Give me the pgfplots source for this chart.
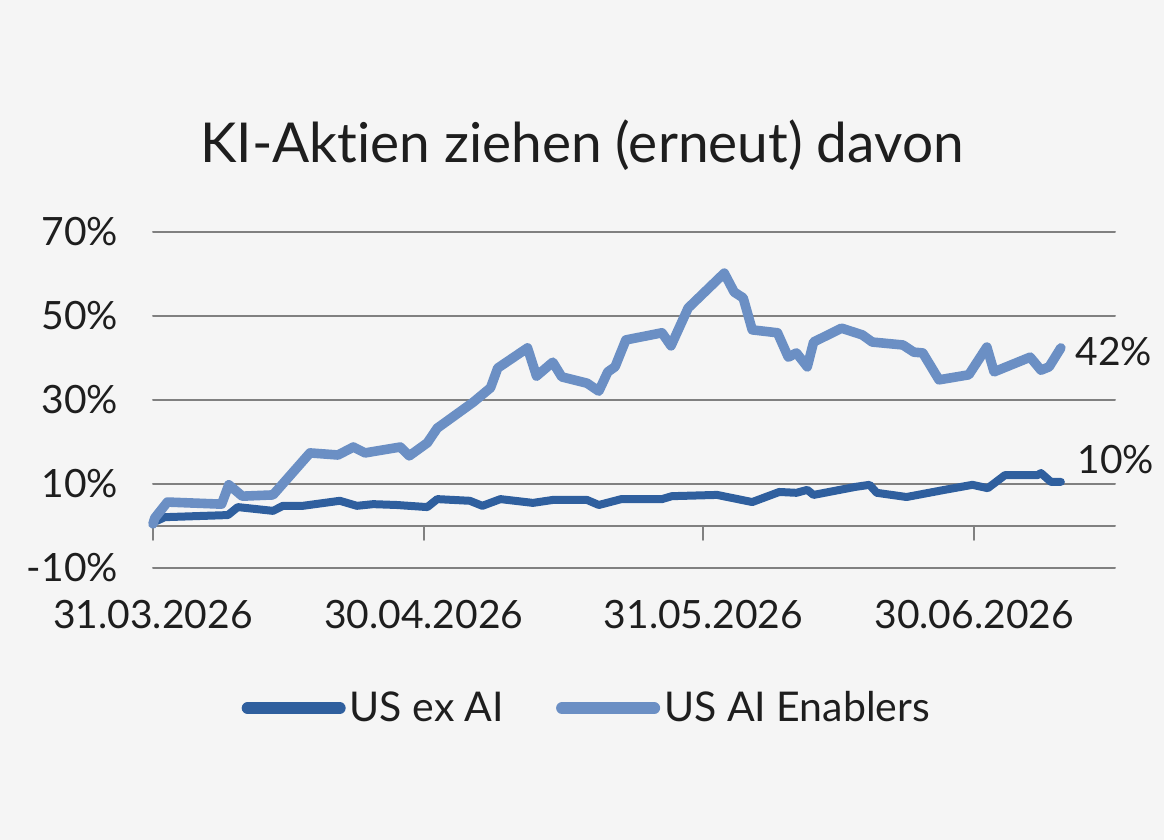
\documentclass[border=0pt]{standalone}
\usepackage{fontspec}
\setmainfont{Lato}[Ligatures=NoCommon]
\usepackage{pgfplots}
\pgfplotsset{compat=1.18}

\definecolor{bg}{RGB}{245,245,245}
\definecolor{gridgray}{RGB}{128,128,128}
\definecolor{usexai}{RGB}{47,95,158}
\definecolor{aienab}{RGB}{107,143,196}
\definecolor{txt}{RGB}{30,30,30}

% x = days since 31.03.2026, y = performance in %
\begin{document}
\begin{tikzpicture}
\fill[bg] (0,0) rectangle (582pt,420pt);
\begin{axis}[
    at={(76.5pt,136pt)}, anchor=south west,
    scale only axis,
    width=481pt, height=168pt,
    xmin=0, xmax=106.6,
    ymin=-10, ymax=70,
    axis x line=middle,
    axis y line=left,
    hide obscured x ticks=false,
    x axis line style={draw=gridgray, line width=1pt, -},
    y axis line style={draw=none},
    xtick={0,30,61,91},
    xticklabels={31.03.2026,30.04.2026,31.05.2026,30.06.2026},
    ytick={-10,10,30,50,70},
    yticklabels={-10\%,10\%,30\%,50\%,70\%},
    tick align=outside,
    major tick length=7pt,
    xtick style={draw=gridgray, line width=1pt},
    ytick style={draw=none},
    ymajorgrids,
    grid style={draw=gridgray, line width=1pt},
    tick label style={font=\fontsize{19.5}{22}\selectfont, text=txt},
    xticklabel style={anchor=north, yshift=-26.5pt},
    yticklabel style={anchor=east, xshift=-7pt},
    clip=false,
    line join=round, line cap=round,
    legend columns=2,
    legend style={at={(0.452,-0.417)}, anchor=center, draw=none, fill=none,
        font=\fontsize{20.5}{24}\selectfont, text=txt,
        /tikz/every even column/.append style={column sep=24pt}},
    legend cell align=left,
    legend image code/.code={\draw[#1, line width=6pt, line cap=round] (0pt,0pt) -- (46pt,0pt);},
]
\addplot[usexai, line width=4pt] coordinates {
(0,0.8) (1.3,2.1) (8.3,2.6) (9.4,4.5) (13.3,3.6) (14.4,4.8) (16.6,4.8)
(20.7,6.0) (22.6,4.8) (24.4,5.2) (27.0,5.0) (30.4,4.5) (31.5,6.4) (35.1,6.0)
(36.5,4.8) (38.5,6.4) (42.1,5.5) (44.3,6.2) (48.1,6.2) (49.4,5.0) (51.9,6.4)
(56.4,6.4) (57.5,7.1) (62.5,7.4) (66.4,5.7) (69.4,8.1) (71.3,7.9) (72.5,8.6)
(73.2,7.4) (77.8,9.3) (79.4,9.8) (80.2,7.9) (83.5,6.9) (87.7,8.6) (90.8,9.8)
(92.5,9.0) (94.4,12.1) (98.0,12.1) (98.4,12.6) (99.5,10.5) (100.6,10.5)
};
\addlegendentry{US ex AI}
\addplot[aienab, line width=4.8pt] coordinates {
(0,0.5) (0.2,1.9) (1.6,5.7) (7.6,5.2) (8.4,9.8) (9.9,7.1) (13.3,7.4)
(17.4,17.4) (20.5,16.9) (22.2,18.8) (23.5,17.4) (27.4,18.8) (28.4,16.7)
(30.4,19.8) (31.5,23.3) (35.5,29.5) (37.4,32.9) (38.2,37.6) (41.5,42.4)
(42.5,35.7) (44.3,39.0) (45.3,35.5) (48.1,34.0) (49.4,32.1) (50.4,36.7)
(51.2,37.9) (52.4,44.3) (56.4,46.0) (57.4,42.9) (59.3,51.9) (63.3,60.2)
(64.4,55.7) (65.4,54.3) (66.4,46.7) (69.2,46.0) (70.4,40.2) (71.3,41.2)
(72.5,37.9) (73.2,43.8) (76.3,47.1) (78.6,45.5) (79.7,43.8) (83.1,43.1)
(84.3,41.4) (85.3,41.2) (87.1,34.8) (90.4,36.0) (92.4,42.6) (93.2,36.7)
(97.2,40.2) (98.4,37.1) (99.3,37.9) (100.6,42.4)
};
\addlegendentry{US AI Enablers}
\node[anchor=west, text=txt, font=\fontsize{19.5}{22}\selectfont, inner sep=0pt]
    at (axis cs:102.2,41.5) {42\%};
\node[anchor=west, text=txt, font=\fontsize{19.5}{22}\selectfont, inner sep=0pt]
    at (axis cs:102.4,15.8) {10\%};
\end{axis}
\node[text=txt, font=\fontsize{27.5}{32}\selectfont] at (291pt,347.5pt)
    {KI-Aktien ziehen (erneut) davon};
\end{tikzpicture}
\end{document}
